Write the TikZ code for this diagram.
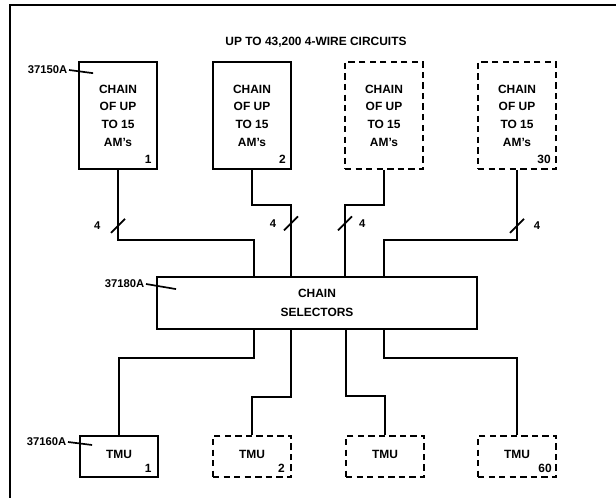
\documentclass[tikz,border=0pt]{standalone}
\usepackage{fontspec}
\setmainfont{Liberation Sans}
\usetikzlibrary{positioning, calc}

\begin{document}
\begin{tikzpicture}[
            x=0.025cm, y=0.025cm,
            chain/.style={draw, line width=1.3pt,
                    minimum width=1.95cm, minimum height=2.67cm,
                    align=center, inner sep=0pt,
                    font=\fontsize{8.5}{12.6}\selectfont\bfseries},
            tmu/.style={draw, line width=1.3pt,
                    minimum width=1.95cm, minimum height=1.03cm,
                    font=\fontsize{8.5}{10}\selectfont\bfseries},
            spare/.style={dash pattern=on 4.5pt off 3pt},
            unitno/.style={anchor=south east, inner sep=0pt,
                    font=\fontsize{8.5}{10}\selectfont\bfseries},
            partno/.style={anchor=east, inner sep=1pt,
                    font=\fontsize{8}{10}\selectfont\bfseries},
            busno/.style={inner sep=0pt, font=\fontsize{8}{10}\selectfont\bfseries},
            leader/.style={line width=1.2pt},
            wire/.style={line width=1.2pt},
            buswidth/.style={line width=1.2pt}
        ]

        \useasboundingbox (0,0) rectangle (616,-498);

        % ---------------------------------------------------------------
        % FRAME AND TITLE
        % ---------------------------------------------------------------
        \draw[line width=1.4pt] (616,-5) -- (10,-5) -- (10,-498);
        \node[font=\fontsize{8.5}{10}\selectfont\bfseries] (title) at (316,-42)
            {UP TO 43,200 4-WIRE CIRCUITS};

        % ---------------------------------------------------------------
        % NODES
        % ---------------------------------------------------------------

        % Chains of AM's
        \node[chain] (chain1) at (118,-115.5) {CHAIN\\OF UP\\TO 15\\AM's};
        \node[chain] (chain2) at (252,-115.5) {CHAIN\\OF UP\\TO 15\\AM's};
        \node[chain, spare] (chain3) at (384,-115.5) {CHAIN\\OF UP\\TO 15\\AM's};
        \node[chain, spare] (chain30) at (517,-115.5) {CHAIN\\OF UP\\TO 15\\AM's};

        % Chain selectors
        \node[draw, line width=1.3pt, minimum width=8cm, minimum height=1.3cm,
              align=center, font=\fontsize{8.5}{13}\selectfont\bfseries]
            (sel) at (317,-303) {CHAIN\\SELECTORS};

        % TMUs
        \node[tmu] (tmu1) at (119,-456.5) {\raisebox{3pt}{TMU}};
        \node[tmu, spare] (tmu2) at (252,-456.5) {\raisebox{3pt}{TMU}};
        \node[tmu, spare] (tmu3) at (385,-456.5) {\raisebox{3pt}{TMU}};
        \node[tmu, spare] (tmu60) at (517,-456.5) {\raisebox{3pt}{TMU}};

        % Unit numbers
        \node[unitno] at ([shift={(-6,6)}]chain1.south east) {1};
        \node[unitno] at ([shift={(-6,6)}]chain2.south east) {2};
        \node[unitno] at ([shift={(-6,6)}]chain30.south east) {30};
        \node[unitno] at ([shift={(-7,5)}]tmu1.south east) {1};
        \node[unitno] at ([shift={(-7,5)}]tmu2.south east) {2};
        \node[unitno] at ([shift={(-5,5)}]tmu60.south east) {60};

        % Part numbers
        \node[partno] (p150) at (69,-70) {37150A};
        \draw[leader] (p150.east) -- ([shift={(15,-12)}]chain1.north west);
        \node[partno] (p180) at (146,-284) {37180A};
        \draw[leader] (p180.east) -- ([shift={(20,-13)}]sel.north west);
        \node[partno] (p160) at (68,-442) {37160A};
        \draw[leader] (p160.east) -- ([shift={(13,-10)}]tmu1.north west);

        % ---------------------------------------------------------------
        % CONNECTIONS
        % ---------------------------------------------------------------
        \coordinate (s1) at ([shift={(-63,0)}]sel.north);
        \coordinate (s2) at ([shift={(-26,0)}]sel.north);
        \coordinate (s3) at ([shift={(28,0)}]sel.north);
        \coordinate (s4) at ([shift={(67,0)}]sel.north);
        \coordinate (b1) at ([shift={(-63,0)}]sel.south);
        \coordinate (b2) at ([shift={(-26,0)}]sel.south);
        \coordinate (b3) at ([shift={(29,0)}]sel.south);
        \coordinate (b4) at ([shift={(67,0)}]sel.south);

        % Chains to selectors
        \draw[wire] (chain1.south) -- coordinate[pos=0.8] (t1) ++(0,-70) -| (s1);
        \draw[wire] (chain2.south) -- ++(0,-35) -| coordinate[pos=0.63] (t2) (s2);
        \draw[wire] (chain3.south) -- ++(0,-35) -| coordinate[pos=0.63] (t3) (s3);
        \draw[wire] (chain30.south) -- coordinate[pos=0.8] (t4) ++(0,-70) -| (s4);

        % Selectors to TMUs
        \draw[wire] (b1) -- ++(0,-28) -| (tmu1.north);
        \draw[wire] (b2) -- ++(0,-67) -| (tmu2.north);
        \draw[wire] (b3) -- ++(0,-66) -| (tmu3.north);
        \draw[wire] (b4) -- ++(0,-28) -| (tmu60.north);

        % 4-wire marks
        \foreach \t in {t1,t2,t3,t4}
            \draw[buswidth] (\t) ++(-7,-7) -- ++(14,14);
        \node[busno] at ([xshift=-0.52cm]t1) {4};
        \node[busno] at ([xshift=-0.45cm]t2) {4};
        \node[busno] at ([xshift=0.43cm]t3) {4};
        \node[busno] at ([xshift=0.5cm]t4) {4};

    \end{tikzpicture}
\end{document}
